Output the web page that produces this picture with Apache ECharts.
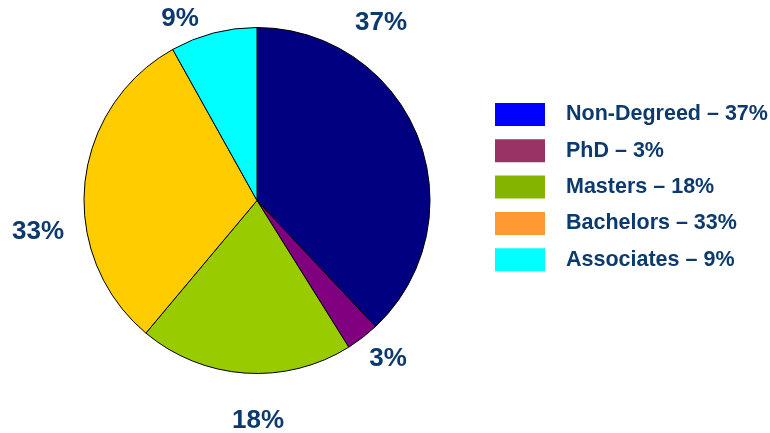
<!DOCTYPE html>
<html>
<head>
<meta charset="utf-8">
<script src="https://cdn.jsdelivr.net/npm/echarts@6/dist/echarts.min.js"></script>
<style>html,body{margin:0;padding:0;background:#fff;}#c{width:770px;height:433px;}</style>
</head>
<body>
<div id="c"></div>
<script>
const categories = ["Non-Degreed", "PhD", "Masters", "Bachelors", "Associates"];
const values = [38.0, 3.1, 20.0, 30.8, 8.1];
const labelTexts = ["37%", "3%", "18%", "33%", "9%"];
const sliceColors = ["#000080", "#800080", "#99CC00", "#FFCC00", "#00FFFF"];
const legendColors = ["#0000FF", "#993366", "#84B400", "#FF9933", "#00FFFF"];

const labelPos = [[381, 23], [388, 359], [258, 421], [38, 232], [180, 19]];
const font = '"Liberation Sans", Arial, sans-serif';
const chart = echarts.init(document.getElementById('c'), null, {renderer: 'canvas'});
chart.setOption({
  backgroundColor: '#ffffff',
  animation: false,
  legend: {
    orient: 'vertical',
    left: 495,
    top: 103,
    padding: 0,
    itemWidth: 50,
    itemHeight: 23,
    itemGap: 13.3,
    icon: 'rect',
    selectedMode: false,
    data: categories.map((n, i) => ({name: n, itemStyle: {color: legendColors[i], borderWidth: 0}})),
    formatter: function (name) {
      const i = categories.indexOf(name);
      return name + ' \u2013 ' + labelTexts[i];
    },
    textStyle: {
      fontFamily: font,
      fontWeight: 'bold',
      fontSize: 21.5,
      color: '#0D3A6E',
      padding: [0, 0, 0, 16],
      lineHeight: 23
    }
  },
  series: [{
    type: 'pie',
    center: [257, 200.5],
    radius: 173,
    startAngle: 90,
    clockwise: true,
    avoidLabelOverlap: false,
    emphasis: {disabled: true},
    itemStyle: {borderColor: '#000000', borderWidth: 1},
    label: {
      show: true,
      position: 'outside',
      fontFamily: font,
      fontWeight: 'bold',
      fontSize: 26,
      color: '#0D3A6E',
      formatter: function (p) { return labelTexts[p.dataIndex]; }
    },
    labelLine: {show: false},
    labelLayout: function (params) {
      const p = labelPos[params.dataIndex];
      return {x: p[0], y: p[1], align: 'center', verticalAlign: 'middle'};
    },
    data: categories.map((n, i) => ({name: n, value: values[i], itemStyle: {color: sliceColors[i]}}))
  }]
});
</script>
</body>
</html>
